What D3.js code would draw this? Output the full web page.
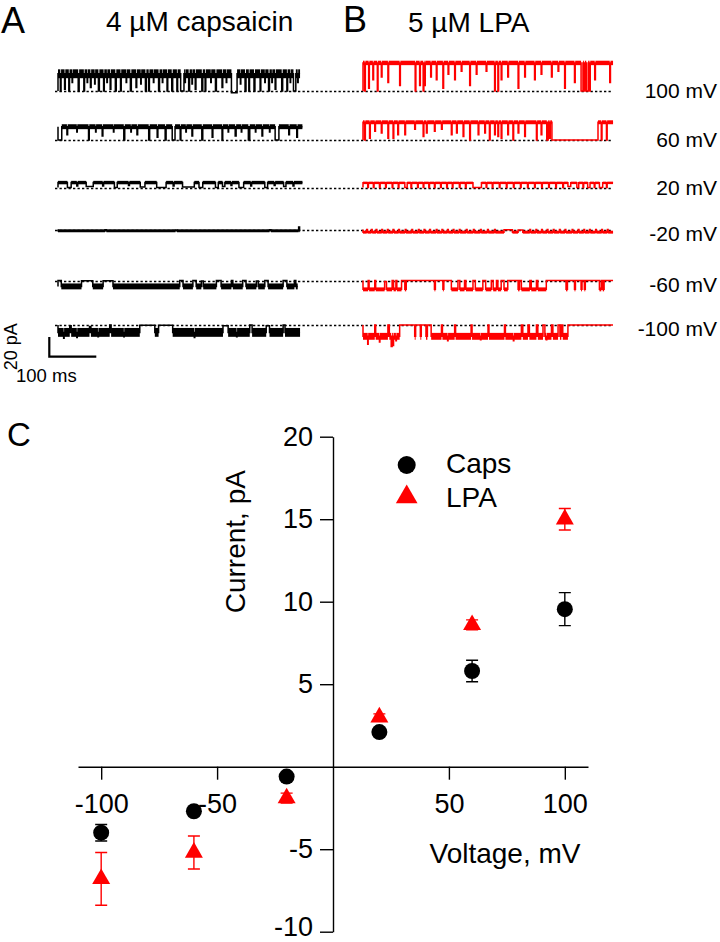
<!DOCTYPE html>
<html><head><meta charset="utf-8">
<script src="https://cdn.jsdelivr.net/npm/d3@7"></script>
<style>body{margin:0;background:#fff}svg{display:block}text{font-family:"Liberation Sans",Arial,sans-serif;fill:#000}</style>
</head><body><svg id="c" width="720" height="942"></svg>
<script>
// ---------- data ----------
const voltages = [100, 60, 20, -20, -60, -100];
const voltageLabels = ["100 mV", "60 mV", "20 mV", "-20 mV", "-60 mV", "-100 mV"];
// single-channel traces (pA, ms); events: [start ms, duration ms, fraction of open current]
const capsOpen = [17.5, 13.5, 5, -1.3, -6, -7.5];
const capsNoise = [9, 5, 3.5, 3, 6, 9];
const capsDuration = [515, 520, 520, 515, 510, 515];
const capsEvents = [
  [[5,1.5,0],[14,1.5,0.1],[23,1.5,0],[30,1,0.5],[43,2,0],[55,1.5,0],[62,1,0.5],[69,1.5,0.2],[78,1,0.4],[86,2,0],[97,1.5,0],[104,1,0.5],[111,1.5,0.1],[122,2,0],[133,1.5,0],[145,1,0.5],[154,2,0],[166,1.5,0.2],[176,1,0.4],[186,2,0],[193,1.5,0],[203,1,0.5],[214,2,0],[222,1,0.5],[232,1.5,0],[242,2,0],[253,1.5,0],[261,7,0],[270,1,0.5],[278,2,0],[285,1,0.4],[292,1.5,0.1],[306,2,0],[313,1.5,0],[325,1,0.5],[335,2,0],[349,1.5,0.2],[358,1,0.5],[369,12,-0.1],[388,1,0.4],[398,2,0],[406,1.5,0],[417,2,0],[430,1.5,0],[440,1,0.5],[448,2,0],[455,1,0.5],[462,1.5,0.1],[476,2,0],[487,1.5,0],[494,1,0.5],[501,5,0],[510,1,0.5]],
  [[0,8,0],[19,1.5,0.4],[40,1,0.6],[65,1.5,0],[80,1,0.6],[94,1.5,0.3],[118,1,0.6],[140,2,0],[155,1,0.6],[168,1.5,0.4],[193,2,0],[211,1.5,0.2],[228,2,0],[243,6,0],[260,1.5,0],[272,1,0.6],[285,1.5,0.3],[306,2,0],[328,1.5,0.2],[349,1.5,0],[362,1,0.6],[377,2,0.3],[390,1,0.6],[405,3,0],[420,1,0.6],[434,1.5,0.3],[450,1,0.6],[462,8,0],[491,1.5,0.4],[508,1.5,0.2]],
  [[20,8,0],[40,2,0.3],[60,15,0.2],[95,2,0.3],[120,6,0],[150,2,0.4],[175,10,0.1],[210,20,0],[245,2,0.3],[265,25,0.1],[300,8,0],[335,6,0],[350,5,0.2],[368,2,0.4],[385,10,0],[410,2,0.3],[440,6,0],[460,2,0.4],[480,5,0.2],[500,2,0.3]],
  [[100,3,0.2],[250,3,0.3],[450,3,0.2],[512,2,-2]],
  [[0,7,0],[50,24,0.05],[96,21,0.05],[259,7,0],[287,7,0],[305,4,0.1],[337,10,0],[369,3,0],[393,7,0],[422,4,0.1],[440,7,0],[479,8,0],[503,3,0]],
  [[12,1,1.8],[25,3,0.1],[40,1,1.7],[67,3,0.2],[85,1,1.6],[110,3,0],[140,1,1.6],[174,32,0.05],[214,30,0.05],[290,1,1.7],[351,11,0.1],[380,1,1.6],[408,5,0],[443,7,0.1],[479,4,0]]
];
const lpaOpen = [28.5, 18, 4.7, -2.7, -9, -11.5];
const lpaNoise = [4.5, 4, 2.5, 3, 4, 7];
const lpaDuration = [532, 532, 532, 532, 532, 532];
const lpaEvents = [
  [[3.5,1.5,0],[12,1.5,0.1],[21,1.5,0.4],[30.5,1.5,0],[39,1.5,0.5],[53,1.5,0.3],[78,1.5,0.2],[111,1.5,0],[120.5,1.5,0.2],[128,1.5,0],[131,1.5,0.2],[144,1.5,0.5],[156,1.5,0.4],[170,1.5,0.1],[181,1.5,0.6],[195,1.5,0.4],[209,1.5,0.7],[227,1.5,0.2],[241,1.5,0.6],[262,1.5,0.7],[280,1.5,0],[287,1.5,0],[294,1.5,0.4],[308,1.5,0.5],[330,1.5,0.1],[344,1.5,0.5],[365,1.5,0.4],[379,1.5,0.6],[401,1.5,0.5],[415,1.5,0.7],[429,1.5,0.1],[450,1.5,0.3],[464,4,0],[470,2,0],[475,4,0],[482,1.5,0],[493,1.5,0.4],[525,1.5,0.3]],
  [[3.5,1.5,0],[14,1.5,0.1],[25,1.5,0.5],[39,1.5,0.4],[53,1.5,0.1],[64,1.5,0.1],[74,1.5,0.3],[89,1.5,0.3],[110,1.5,0.6],[128,1.5,0.2],[135,1.5,0.4],[152,1.5,0.5],[167,1.5,0.6],[188,1.5,0.3],[199,1.5,0.4],[213,1.5,0.2],[227,1.5,0],[245,1.5,0.3],[259,1.5,0.4],[269,1.5,0],[280,1.5,0.3],[287,1.5,0.2],[294,1.5,0.1],[308,1.5,0.3],[319,1.5,0],[330,1.5,0.4],[344,1.5,0.2],[369,1.5,0],[379,1.5,0.3],[391,3,0],[397,1.5,0.1],[402,98,0],[507,1.5,0],[518,1.5,0]],
  [[10,1.5,0],[22,1.5,0],[35,1.5,0],[48,1.5,0],[62,1.5,0],[75,1.5,0],[89,5,0],[102,1.5,0],[116,1.5,0],[128,1.5,0],[140,1.5,0],[152,1.5,0],[165,1.5,0],[178,1.5,0],[190,1.5,0],[205,1.5,0],[218,1.5,0],[234,18,0],[262,1.5,0],[275,1.5,0],[290,1.5,0],[305,1.5,0],[320,1.5,0],[335,1.5,0],[350,1.5,0],[365,1.5,0],[380,1.5,0],[395,1.5,0],[410,1.5,0],[425,1.5,0],[436,6,0.2],[455,4,0],[468,1.5,0],[478,5,0],[492,1.5,0],[503,7,0],[518,1.5,0]],
  [[8,1.5,0],[18,1.5,0],[28,1.5,0],[40,1.5,0],[52,1.5,0],[64,1.5,0],[76,1.5,0],[90,1.5,0],[104,1.5,0],[118,1.5,0],[130,1.5,0],[142,1.5,0],[156,1.5,0],[168,1.5,0],[180,1.5,0],[192,1.5,0],[205,1.5,0],[220,1.5,0],[235,1.5,0],[250,1.5,0],[265,1.5,0],[280,1.5,0],[300,18,0.1],[330,10,0.2],[355,1.5,0],[368,1.5,0],[380,1.5,0],[392,1.5,0],[405,1.5,0],[418,1.5,0],[430,1.5,0],[445,1.5,0],[458,1.5,0],[470,1.5,0],[482,1.5,0],[495,1.5,0],[508,1.5,0],[520,1.5,0]],
  [[11,2,0],[25,2,0],[46,4,0.1],[62,3,0],[70,2,0],[82,7,0],[92,60,0],[154,16,0],[172,16,0],[202,4,0],[216,3,0],[234,5,0],[255,6,0],[273,4,0],[284,3,0],[294,6,0],[308,22,0],[333,4,0],[355,3,0],[369,3,0],[390,42,0],[435,15,0],[452,12,0],[466,5,0],[473,30,0],[507,3,0],[513,19,0]],
  [[10,1,1.7],[25,2,0],[35,1,1.5],[53,3,0],[60,2,1.9],[64,1,1.8],[70,1,1.4],[78,32,0],[112,10,0],[124,10,0],[137,8,0],[167,2,0],[180,1,1.4],[195,2,0],[230,2,0],[250,1,1.3],[266,2,0],[301,2,0],[320,1,1.4],[337,3,0],[351,3,0],[369,3,0],[383,4,0],[390,1,1.3],[401,3,0],[415,4,0],[422,3,0],[436,96,0]]
];
// current-voltage relation (mean ± SEM)
const ivVoltage = [-100, -60, -20, 20, 60, 100];
const capsMean = [-4.0, -2.7, -0.6, 2.1, 5.8, 9.55];
const capsSem  = [0.5, 0.15, 0.1, 0.2, 0.65, 1.0];
const lpaMean  = [-6.8, -5.2, -1.9, 3.0, 8.6, 15.0];
const lpaSem   = [1.6, 1.0, 0.3, 0.2, 0.3, 0.65];
const xTickValues = [-100, -50, 50, 100];
const yTickValues = [-10, -5, 5, 10, 15, 20];

// ---------- drawing ----------
const svg = d3.select("#c");
const RED = "#ff0000";

// panel letters and titles
svg.append("text").attr("x", 1).attr("y", 32.5).style("font-size", "36px").text("A");
svg.append("text").attr("x", 106).attr("y", 31).style("font-size", "28px").text("4 µM capsaicin");
svg.append("text").attr("x", 343).attr("y", 32).style("font-size", "36px").text("B");
svg.append("text").attr("x", 408).attr("y", 31.5).style("font-size", "28px").text("5 µM LPA");
svg.append("text").attr("x", 7).attr("y", 446).style("font-size", "33px").text("C");

// trace scales
const rowY = d3.scaleOrdinal(voltages, [91, 140, 187.5, 229.5, 280.5, 325]);
const tX = d3.scaleLinear().domain([0, 100]).range([0, 47]);    // ms -> px
const tY = d3.scaleLinear().domain([0, 20]).range([0, -19.7]);  // pA -> px

// dashed zero-current lines
svg.append("g").selectAll("line").data(voltages).join("line")
  .attr("x1", 55).attr("x2", 612)
  .attr("y1", d => Math.round(rowY(d)) + 0.5).attr("y2", d => Math.round(rowY(d)) + 0.5)
  .attr("stroke", "#000").attr("stroke-width", 1.3).attr("stroke-dasharray", "2.3,2.2");

function drawTrace(x0, y0, open, noise, dur, events, color) {
  const ev = events.slice().sort((a, b) => a[0] - b[0]);
  const pts = [[0, 0], [0, open]];
  const segs = [];
  let t = 0;
  ev.forEach(([s, d, f]) => {
    const e = Math.min(s + d, dur);
    if (s > t) segs.push([t, s]);
    pts.push([s, open], [s, open * f], [e, open * f]);
    if (e < dur) pts.push([e, open]);
    t = e;
  });
  if (t < dur) { segs.push([t, dur]); pts.push([dur, open]); }
  const g = svg.append("g");
  const h = Math.abs(tY(noise) - tY(0));
  g.selectAll("rect").data(segs).join("rect")
    .attr("x", d => x0 + tX(d[0])).attr("width", d => Math.max(0.5, tX(d[1]) - tX(d[0])))
    .attr("y", y0 + tY(open) - h / 2).attr("height", h)
    .attr("fill", color);
  const line = d3.line().x(d => x0 + tX(d[0])).y(d => y0 + tY(d[1]));
  g.append("path").attr("d", line(pts)).attr("fill", "none")
    .attr("stroke", color).attr("stroke-width", 1.5).attr("stroke-linejoin", "miter");
}
voltages.forEach((v, i) => {
  drawTrace(58, rowY(v), capsOpen[i], capsNoise[i], capsDuration[i], capsEvents[i], "#000");
  drawTrace(363, rowY(v), lpaOpen[i], lpaNoise[i], lpaDuration[i], lpaEvents[i], RED);
});

// voltage labels
svg.append("g").selectAll("text").data(voltages).join("text")
  .attr("x", 717).attr("y", d => rowY(d) + (d > 0 ? 7 : 11))
  .attr("text-anchor", "end").style("font-size", "21px")
  .text((d, i) => voltageLabels[i]);

// scale bar: 20 pA, 100 ms
const sbX = 49.3, sbY = 356.7;
svg.append("path")
  .attr("d", `M${sbX},${sbY + tY(20)}V${sbY}H${sbX + tX(100)}`)
  .attr("fill", "none").attr("stroke", "#000").attr("stroke-width", 2.2);
svg.append("text").attr("transform", `translate(17,${sbY + tY(10)}) rotate(-90)`)
  .attr("text-anchor", "middle").style("font-size", "18px").text("20 pA");
svg.append("text").attr("x", 16).attr("y", 381.7).style("font-size", "18.5px").text("100 ms");

// ---------- IV plot ----------
const x = d3.scaleLinear().domain([-110, 110]).range([78, 588]);
const y = d3.scaleLinear().domain([-10, 20]).range([931.7, 436.7]);
const fmt = d => String(d);

const xAxis = svg.append("g").attr("transform", `translate(0,${y(0)})`)
  .call(d3.axisBottom(x).tickValues(xTickValues).tickSize(13).tickSizeOuter(0).tickPadding(14).tickFormat(fmt));
const yAxis = svg.append("g").attr("transform", `translate(${x(0)},0)`)
  .call(d3.axisLeft(y).tickValues(yTickValues).tickSize(13).tickSizeOuter(0).tickPadding(7).tickFormat(fmt));
[xAxis, yAxis].forEach(a => {
  a.selectAll("path,line").attr("stroke", "#000").attr("stroke-width", 1.4);
  a.selectAll("text").style("font-size", "27px").attr("fill", "#000")
    .style("font-family", '"Liberation Sans",Arial,sans-serif');
});
// keep the lowest tick label inside the picture
yAxis.selectAll(".tick text").filter(d => d === -10).attr("dy", "0.13em");

svg.append("text").attr("transform", "translate(245,541.7) rotate(-90)")
  .attr("text-anchor", "middle").style("font-size", "28px").text("Current, pA");
svg.append("text").attr("x", 505).attr("y", 863.3)
  .attr("text-anchor", "middle").style("font-size", "28px").text("Voltage, mV");

function errorBars(mean, sem, color) {
  const g = svg.append("g").attr("stroke", color).attr("stroke-width", 1.4).attr("fill", "none");
  ivVoltage.forEach((v, i) => {
    const cx = x(v), y1 = y(mean[i] - sem[i]), y2 = y(mean[i] + sem[i]);
    g.append("path").attr("d", `M${cx},${y1}V${y2}M${cx - 6},${y1}H${cx + 6}M${cx - 6},${y2}H${cx + 6}`);
  });
}
errorBars(capsMean, capsSem, "#000");
errorBars(lpaMean, lpaSem, RED);

svg.append("g").selectAll("circle").data(ivVoltage).join("circle")
  .attr("cx", d => x(d)).attr("cy", (d, i) => y(capsMean[i])).attr("r", 8).attr("fill", "#000");
const tri = d3.symbol(d3.symbolTriangle, 140);
svg.append("g").selectAll("path").data(ivVoltage).join("path")
  .attr("transform", (d, i) => `translate(${x(d)},${y(lpaMean[i])})`)
  .attr("d", tri()).attr("fill", RED);

// legend
svg.append("circle").attr("cx", 406.7).attr("cy", 465).attr("r", 9).attr("fill", "#000");
svg.append("text").attr("x", 446).attr("y", 473.3).style("font-size", "28px").text("Caps");
svg.append("path").attr("transform", "translate(406.7,497)").attr("d", d3.symbol(d3.symbolTriangle, 204)()).attr("fill", RED);
svg.append("text").attr("x", 446).attr("y", 506.7).style("font-size", "28px").text("LPA");
</script></body></html>
